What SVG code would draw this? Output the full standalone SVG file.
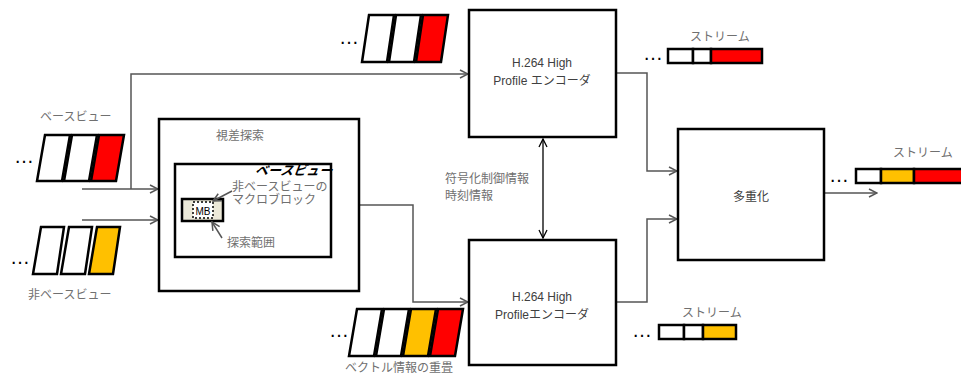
<svg xmlns="http://www.w3.org/2000/svg" width="961" height="377" viewBox="0 0 961 377">
<style>
.box{fill:#fff;stroke:#000;stroke-width:2.5}
.fr{stroke:#000;stroke-width:2.5;stroke-linejoin:miter}
.w{fill:#fff}.r{fill:#f00}.o{fill:#ffc000}
.ln{fill:none;stroke:#555;stroke-width:1.5}
.t{font-family:"Liberation Sans","Noto Sans CJK JP",sans-serif;font-size:12px;fill:#707070}
.tb{font-family:"Liberation Sans","Noto Sans CJK JP",sans-serif;font-size:12px;fill:#404040}
.dots{font-family:"Liberation Sans",sans-serif;font-size:20px;fill:#000;letter-spacing:1px}
</style>
<defs>
<marker id="ah" markerWidth="10" markerHeight="10" refX="9" refY="5" orient="auto" markerUnits="userSpaceOnUse">
<path d="M1,1 L9,5 L1,9" fill="none" stroke="#555" stroke-width="1.5"/>
</marker>
<marker id="ahs" markerWidth="10" markerHeight="10" refX="9" refY="5" orient="auto-start-reverse" markerUnits="userSpaceOnUse">
<path d="M1,1 L9,5 L1,9" fill="none" stroke="#000" stroke-width="1.3"/>
</marker>
</defs>

<g id="connectors">
<path class="ln" d="M82,189 H158" marker-end="url(#ah)"/>
<path class="ln" d="M131,189 V74 H468" marker-end="url(#ah)"/>
<path class="ln" d="M82,220 H158" marker-end="url(#ah)"/>
<path class="ln" d="M359,205 H413 V302 H468" marker-end="url(#ah)"/>
<path class="ln" d="M616,73 H647 V171 H677" marker-end="url(#ah)"/>
<path class="ln" d="M616,302 H647 V219 H677" marker-end="url(#ah)"/>
<path class="ln" d="M824,193 H877" marker-end="url(#ah)"/>
<path d="M543,139 V238" fill="none" stroke="#000" stroke-width="1.3" marker-start="url(#ahs)" marker-end="url(#ahs)"/>
</g>

<g id="base-view">
<text class="t" x="40" y="121">ベースビュー</text>
<text class="dots" x="14" y="163">…</text>
<polygon class="fr w" points="45,135 70,135 62,181 37,181"/>
<polygon class="fr w" points="72,135 97,135 89,181 64,181"/>
<polygon class="fr r" points="99,135 124,135 116,181 91,181"/>
</g>

<g id="nonbase-view">
<text class="dots" x="10" y="264">…</text>
<polygon class="fr w" points="41,227 64,227 57,274 33,274"/>
<polygon class="fr w" points="69,227 92,227 85,274 61,274"/>
<polygon class="fr o" points="97,227 120,227 113,274 89,274"/>
<text class="t" x="28" y="299">非ベースビュー</text>
</g>

<g id="disparity-search">
<rect class="box" x="159" y="119" width="200" height="172"/>
<text class="t" x="216" y="140" font-size="13">視差探索</text>
<rect class="box" x="175" y="164" width="156" height="93"/>
<text x="255" y="175" font-family="Liberation Sans,'Noto Sans CJK JP',sans-serif" font-size="13" font-weight="bold" font-style="italic" fill="#000" transform="skewX(-8) translate(24,0)">ベースビュー</text>
<text class="t" x="232" y="191">非ベースビューの</text>
<text class="t" x="232" y="204">マクロブロック</text>
<rect x="182" y="199" width="41" height="22" fill="#ECE9D8" stroke="#000" stroke-width="2.5"/>
<rect x="193" y="202" width="20" height="16" fill="#fff" stroke="#000" stroke-width="1.5" stroke-dasharray="2,2"/>
<text x="203" y="214.5" font-family="Liberation Sans,sans-serif" font-size="10" fill="#000" text-anchor="middle">MB</text>
<path class="ln" d="M232,191 L213,201" stroke="#000" marker-end="url(#ah)"/>
<path class="ln" d="M222,238 L212,222" stroke="#000" marker-end="url(#ah)"/>
<text class="t" x="227" y="247">探索範囲</text>
</g>

<g id="top-frames">
<text class="dots" x="339" y="44">…</text>
<polygon class="fr w" points="369,15 394,15 387,62 362,62"/>
<polygon class="fr w" points="396,15 421,15 414,62 389,62"/>
<polygon class="fr r" points="423,15 448,15 441,62 416,62"/>
</g>

<g id="encoder-top">
<rect class="box" x="469" y="10" width="147" height="127"/>
<text class="tb" x="542" y="67" text-anchor="middle">H.264 High</text>
<text class="tb" x="542" y="85" text-anchor="middle">Profile エンコーダ</text>
</g>

<g id="control-info">
<text class="t" x="445" y="183">符号化制御情報</text>
<text class="t" x="445" y="200">時刻情報</text>
</g>

<g id="encoder-bottom">
<rect class="box" x="469" y="240" width="147" height="125"/>
<text class="tb" x="542" y="301" text-anchor="middle">H.264 High</text>
<text class="tb" x="542" y="319" text-anchor="middle">Profileエンコーダ</text>
</g>

<g id="bottom-frames">
<text class="dots" x="329" y="337">…</text>
<polygon class="fr w" points="357,309 382,309 374,356 349,356"/>
<polygon class="fr w" points="384,309 409,309 401,356 376,356"/>
<polygon class="fr o" points="411,309 436,309 428,356 403,356"/>
<polygon class="fr r" points="438,309 463,309 455,356 430,356"/>
<text class="t" x="345" y="372">ベクトル情報の重畳</text>
</g>

<g id="stream-top">
<text class="t" x="690" y="41">ストリーム</text>
<text class="dots" x="643" y="60">…</text>
<rect class="fr w" x="668" y="49" width="25" height="14"/>
<rect class="fr w" x="693" y="49" width="18" height="14"/>
<rect class="fr r" x="711" y="49" width="51" height="14"/>
</g>

<g id="mux">
<rect class="box" x="678" y="129" width="146" height="131"/>
<text class="tb" x="751" y="201" text-anchor="middle" font-size="13">多重化</text>
</g>

<g id="stream-mux">
<text class="t" x="893" y="157">ストリーム</text>
<text class="dots" x="829" y="182">…</text>
<rect class="fr w" x="856" y="169" width="25" height="14"/>
<rect class="fr o" x="881" y="169" width="33" height="14"/>
<rect class="fr r" x="914" y="169" width="50" height="14"/>
</g>

<g id="stream-bottom">
<text class="t" x="682" y="317">ストリーム</text>
<text class="dots" x="632" y="337">…</text>
<rect class="fr w" x="659" y="325" width="25" height="14"/>
<rect class="fr w" x="684" y="325" width="19" height="14"/>
<rect class="fr o" x="703" y="325" width="33" height="14"/>
</g>
</svg>
